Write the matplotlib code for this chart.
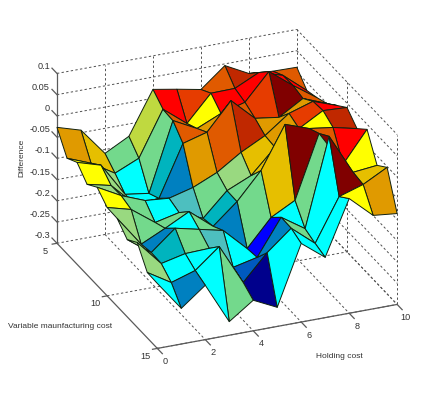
import numpy as np
import matplotlib
matplotlib.use("Agg")
import matplotlib.pyplot as plt
from mpl_toolkits.mplot3d import proj3d

holding_cost = np.arange(0, 11)
variable_cost = np.arange(5, 16)

# difference[row for variable cost][column for holding cost]
difference = np.array([
    [-.027, -.044, -.109, -.079, .021, .011, .000, .046, .017, .012, .011],
    [-.075, -.097, -.131, -.106, -.001, -.045, .016, .017, .044, .027, -.019],
    [-.060, -.077, -.156, -.164, -.003, -.032, -.007, .009, .071, .028, -.011],
    [-.087, -.100, -.155, -.151, -.032, -.016, .048, -.004, -.012, .022, .000],
    [-.069, -.099, -.121, -.126, -.111, -.086, -.049, -.020, .022, .040, .020],
    [-.092, -.107, -.148, -.135, -.159, -.104, -.079, -.023, .011, .043, .040],
    [-.093, -.164, -.137, -.108, -.153, -.105, -.042, .056, .036, .028, .015],
    [-.118, -.159, -.112, -.125, -.138, -.191, -.128, -.098, .049, -.034, .038],
    [-.100, -.160, -.147, -.145, -.200, -.187, -.103, -.140, .067, -.028, -.022],
    [-.146, -.180, -.162, -.116, -.211, -.151, -.104, -.150, -.050, -.032, -.002],
    [-.147, -.216, -.172, -.268, -.228, -.255, -.115, -.158, -.030, -.080, -.086],
])

palette = ['#00008c', '#0000ff', '#0059bf', '#0080c0', '#00b4be', '#00ffff',
           '#4dbfbf', '#73d98c', '#99d980', '#bfd940', '#ffff00', '#e6bf00',
           '#e09a00', '#e05a00', '#e63c00', '#ff0000', '#c02800', '#800000']

face_level = np.array([
    [12, 11, 7, 9, 15, 14, 13, 16, 15, 13],
    [10, 8, 5, 7, 13, 10, 15, 15, 15, 15],
    [10, 8, 5, 4, 13, 12, 13, 14, 17, 13],
    [8, 8, 5, 3, 12, 13, 16, 12, 12, 13],
    [10, 7, 5, 6, 7, 8, 11, 12, 14, 15],
    [8, 7, 7, 7, 4, 7, 11, 12, 10, 16],
    [8, 3, 5, 7, 3, 7, 11, 17, 13, 15],
    [8, 4, 7, 6, 5, 1, 5, 7, 17, 10],
    [8, 5, 5, 5, 2, 3, 7, 5, 17, 11],
    [5, 3, 5, 7, 0, 5, 5, 5, 10, 12],
])

x_ticks = [0, 2, 4, 6, 8, 10]
y_ticks = [5, 10, 15]
z_ticks = [-0.3, -0.25, -0.2, -0.15, -0.1, -0.05, 0, 0.05, 0.1]
z_tick_labels = ['-0.3', '-0.25', '-0.2', '-0.15', '-0.1', '-0.05', '0', '0.05', '0.1']

plt.rcParams['font.family'] = ['Liberation Sans', 'DejaVu Sans']
W, H = 438, 393
fig = plt.figure(figsize=(W / 100, H / 100), dpi=100)
P = 401.3
ax = fig.add_axes([21 / W, -2 / H, P / W, P / H], projection='3d', proj_type='ortho')
ax.set_box_aspect((260, 260, 189))
ax.view_init(elev=26, azim=-112.7)
ax.set_xlim(0, 10)
ax.set_ylim(15, 5)
ax.set_zlim(-0.3, 0.1)
ax.set_xticks([])
ax.set_yticks([])
ax.set_zticks([])
ax.set_axis_off()
ax.computed_zorder = False

x0, x1, y0, y1, z0, z1 = 0, 10, 5, 15, -0.3, 0.1
gridc = '#505050'
dash = dict(color=gridc, lw=0.7, dashes=(2.4, 2.4), zorder=1)
solid = dict(color='#5a5a5a', lw=0.9, zorder=1)

# back wall, right wall, floor
for z in z_ticks:
    ax.plot([x0, x1], [y0, y0], [z, z], **dash)
    ax.plot([x1, x1], [y0, y1], [z, z], **dash)
for x in x_ticks[1:]:
    ax.plot([x, x], [y0, y0], [z0, z1], **dash)
    ax.plot([x, x], [y0, y1], [z0, z0], **dash)
for y in y_ticks[1:]:
    ax.plot([x1, x1], [y, y], [z0, z1], **dash)
    ax.plot([x0, x1], [y, y], [z0, z0], **dash)

# solid axes
ax.plot([x0, x0], [y0, y0], [z0, z1], **solid)
ax.plot([x0, x0], [y0, y1], [z0, z0], **solid)
ax.plot([x0, x1], [y1, y1], [z0, z0], **solid)

tick_txt = dict(fontsize=6.6, color='#333333')
label_txt = dict(fontsize=6.0, color='#333333')


def tick_label(x, y, z, s, ha):
    px, py, _ = proj3d.proj_transform(x, y, z, ax.get_proj())
    ax.text2D(float(px), float(py), s, transform=ax.transData, ha=ha, va='center',
              clip_on=False, **tick_txt)


for z, lab in zip(z_ticks, z_tick_labels):
    ax.plot([x0, x0], [y0, y0 - 0.5], [z, z], **solid)
    tick_label(x0, y0 - 0.7, z, lab, 'right')
for y in y_ticks:
    ax.plot([x0, x0 - 0.2], [y, y], [z0, z0], **solid)
    tick_label(x0 - 0.5, y, z0 - 0.014, str(y), 'center')
for x in x_ticks:
    ax.plot([x, x], [y1, y1 + 0.5], [z0, z0], **solid)
    tick_label(x, y1 + 0.8, z0 - 0.011, str(x), 'center')

# surface
XX, YY = np.meshgrid(holding_cost, variable_cost)
colors = np.array([matplotlib.colors.to_rgba(palette[i]) for i in face_level.ravel()]).reshape(10, 10, 4)
surf = ax.plot_surface(XX, YY, difference, rstride=1, cstride=1, facecolors=colors,
                       shade=False, antialiased=True, zorder=2)
surf.set_edgecolor('#102010')
surf.set_linewidth(0.7)

fig.text(22 / W, 1 - 158 / H, 'Difference', rotation=90, ha='center', va='center', **label_txt)
fig.text(60 / W, 1 - 326 / H, 'Variable maunfacturing cost', ha='center', va='center', **label_txt)
fig.text(339 / W, 1 - 357 / H, 'Holding cost', ha='center', va='center', **label_txt)

fig.savefig('out.png', dpi=100)
